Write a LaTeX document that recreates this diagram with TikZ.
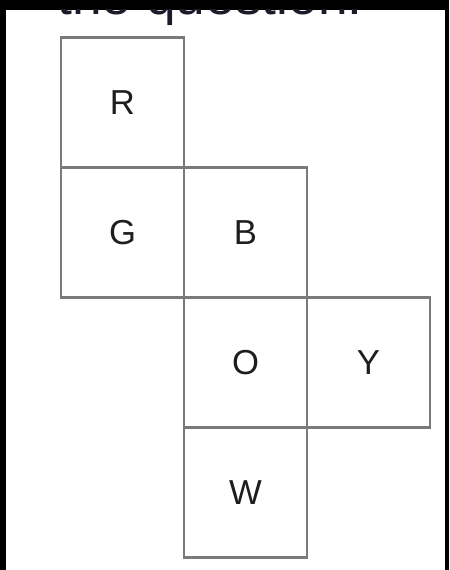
\documentclass[tikz,border=0pt]{standalone}
\usepackage{fontspec}
\setmainfont{Liberation Sans}
\usetikzlibrary{positioning}
\definecolor{edge}{HTML}{7A7A7A}
\definecolor{ink}{HTML}{1E1E1E}
\definecolor{capink}{HTML}{1A1A28}

\begin{document}
\begin{tikzpicture}[
  x=0.75pt, y=-0.75pt,
  node distance=0pt,
  face/.style={draw=edge, line width=1.9pt, outer sep=0pt, inner sep=0pt, minimum width=92.25pt, minimum height=97.5pt, font=\fontsize{26}{30}\selectfont, text=ink},
  caption/.style={anchor=base west, inner sep=0pt, text=capink, font=\fontsize{40}{46}\selectfont}
]
  \useasboundingbox (0,0) rectangle (449,570);
  % frame
  \fill[black] (0,0) rectangle (449,570);
  \fill[white] (6,10) rectangle (445,570);

  % cut-off question text
  \begin{scope}
    \clip (6,10) rectangle (445,570);
    \node[caption] (question) at (57,15) {the question.};
  \end{scope}

  % net of the cube
  \node[face] (r) at (122.5,102.5) {R};
  \node[face, below=of r] (g) {G};
  \node[face, right=of g] (b) {B};
  \node[face, below=of b] (o) {O};
  \node[face, right=of o] (y) {Y};
  \node[face, below=of o] (w) {W};

\end{tikzpicture}
\end{document}
